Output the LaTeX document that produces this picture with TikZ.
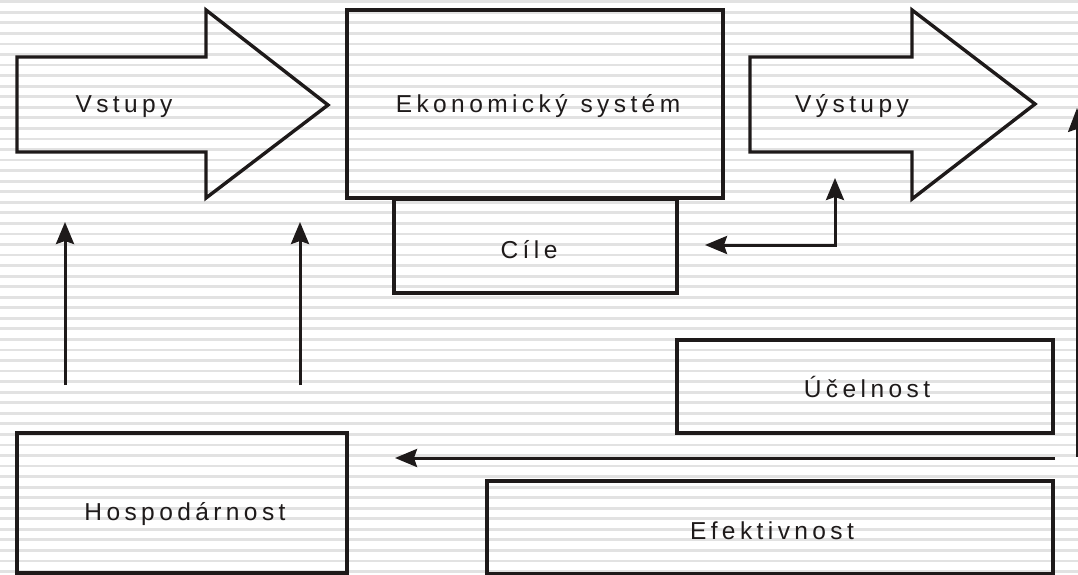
\documentclass[tikz,border=0pt]{standalone}
\usepackage{fontspec}
\setmainfont{Liberation Sans}[LetterSpace=18]
\usetikzlibrary{arrows.meta}
\definecolor{ink}{RGB}{30,26,26}
\definecolor{stripe}{RGB}{226,226,226}
\tikzset{
  myhead/.tip={Stealth[length=22pt,width=18pt,inset=3pt]},
  thinhead/.tip={Stealth[length=24pt,width=18pt,inset=3pt]},
  box/.style={draw=ink, line width=3.4pt, rectangle, inner sep=0pt},
  bigarrow/.style={draw=ink, line width=3.4pt, line join=miter},
  lbl/.style={text=ink, inner sep=0pt, anchor=base, font=\fontsize{24.5}{29}\selectfont},
  conn/.style={draw=ink, line width=3pt, -myhead},
  thinconn/.style={draw=ink, line width=1.9pt, -thinhead}
}
\begin{document}
\begin{tikzpicture}[x=1pt,y=-1pt]
\useasboundingbox (0,0) rectangle (1078,575);
% striped background
\foreach \i in {0,...,54}{
  \fill[stripe] (0,{0.4+10.55*\i}) rectangle (1078,{3.2+10.55*\i});
}
% big arrows
\draw[bigarrow] (17,57) -- (206,57) -- (206,10) -- (328,105) -- (206,198) -- (206,152) -- (17,152) -- cycle;
\draw[bigarrow] (750,57) -- (912,57) -- (912,10) -- (1035,104) -- (912,199) -- (912,152) -- (750,152) -- cycle;
\node[lbl] (vstupy) at (124,113) {Vstupy};
\node[lbl] (vystupy) at (852,113) {Výstupy};
% boxes
\node[box, minimum width=376pt, minimum height=188pt] (eko) at (535,104) {};
\node[lbl] (ekol) at (538,113) {Ekonomický\hspace{13pt}systém};
\node[box, minimum width=283pt, minimum height=94pt] (cile) at (535.5,246) {};
\node[lbl] (cilel) at (529,258) {Cíle};
\node[box, minimum width=330pt, minimum height=140pt] (hosp) at (182,503) {};
\node[lbl] (hospl) at (185,520) {Hospodárnost};
\node[box, minimum width=376pt, minimum height=93pt] (ucel) at (865,386.5) {};
\node[lbl] (ucell) at (867,397) {Účelnost};
\node[box, minimum width=566pt, minimum height=93pt] (efek) at (770,527.5) {};
\node[lbl] (efekl) at (772,539) {Efektivnost};
% connector coordinates
\coordinate (u1s) at (65,385);
\coordinate (u1e) at (65,222);
\coordinate (u2s) at (300,385);
\coordinate (u2e) at (300,222);
\coordinate (c1) at (705,245);
\coordinate (c2) at (835,178);
\coordinate (hs) at (1055,458);
\coordinate (he) at (395,458);
\coordinate (rs) at (1077,457);
\coordinate (re) at (1077,108);
% connectors
\draw[conn] (u1s) -- (u1e);
\draw[conn] (u2s) -- (u2e);
\draw[conn, myhead-myhead] (c1) -| (c2);
\draw[conn] (hs) -- (he);
\draw[thinconn] (rs) -- (re);
\end{tikzpicture}
\end{document}
